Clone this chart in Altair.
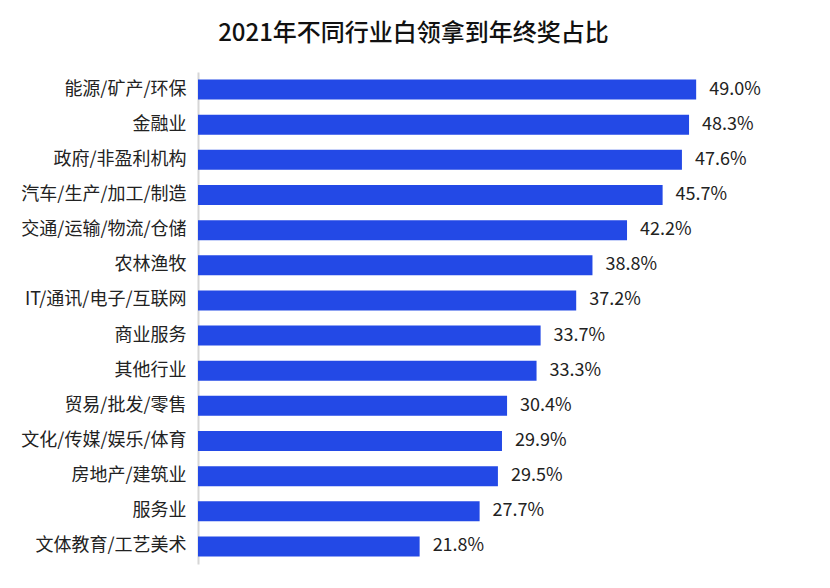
import altair as alt
import pandas as pd

categories = ["能源/矿产/环保", "金融业", "政府/非盈利机构", "汽车/生产/加工/制造",
              "交通/运输/物流/仓储", "农林渔牧", "IT/通讯/电子/互联网", "商业服务",
              "其他行业", "贸易/批发/零售", "文化/传媒/娱乐/体育", "房地产/建筑业",
              "服务业", "文体教育/工艺美术"]
values = [49.0, 48.3, 47.6, 45.7, 42.2, 38.8, 37.2, 33.7, 33.3, 30.4, 29.9, 29.5, 27.7, 21.8]
labels = [f"{v:.1f}%" for v in values]

df = pd.DataFrame({"industry": categories, "value": values, "label": labels})

FONT = "Noto Sans CJK SC"

y = alt.Y("industry:N", sort=categories, title=None,
          scale=alt.Scale(paddingInner=0.43, paddingOuter=0.215),
          axis=alt.Axis(labelFontSize=18, labelColor="#222222", labelFont=FONT,
                        ticks=False, grid=False, domainColor="#d6d6d6", domainWidth=2,
                        labelPadding=12, minExtent=185, maxExtent=185, labelLimit=200))
x = alt.X("value:Q", scale=alt.Scale(domain=[0, 60]), axis=None)

bars = alt.Chart(df).mark_bar(color="#2349e6").encode(x=x, y=y)
text = alt.Chart(df).mark_text(align="left", baseline="middle", dx=13, fontSize=18,
                               font=FONT, color="#222222").encode(x=x, y=y, text="label:N")

chart = (bars + text).properties(
    width=610, height=492,
    title=alt.TitleParams("2021年不同行业白领拿到年终奖占比", fontSize=24, font=FONT,
                          fontWeight=500, color="#111111", anchor="middle",
                          frame="bounds", offset=26, dx=3),
    padding={"left": 5, "right": 5, "top": 14, "bottom": 5},
).configure_view(stroke=None)

chart.save("out.html", embed_options={"renderer": "svg", "actions": False})
